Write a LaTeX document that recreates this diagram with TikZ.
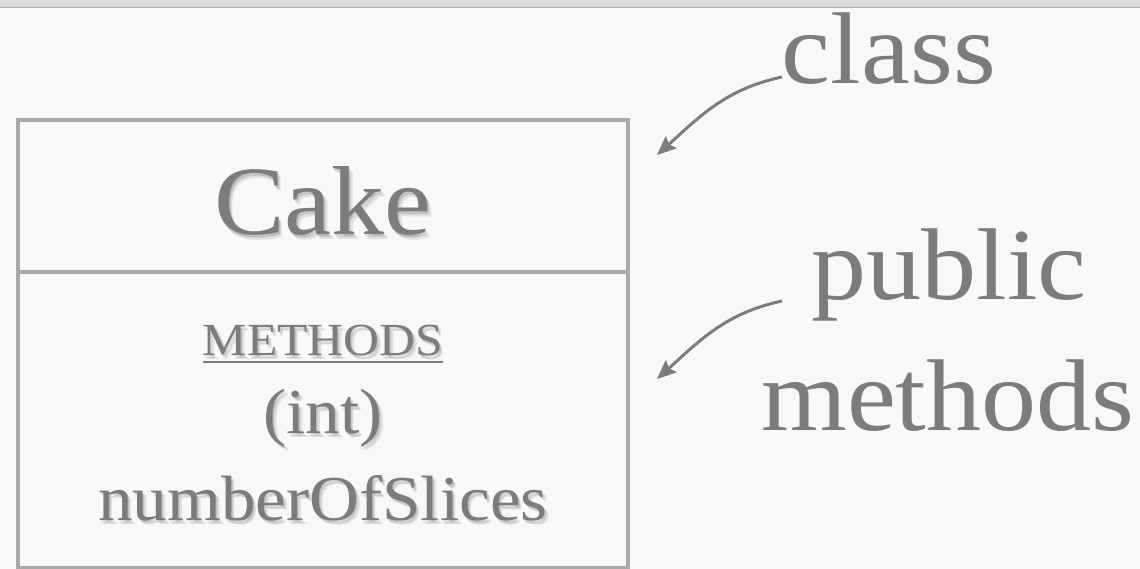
\documentclass[tikz,border=0pt]{standalone}
\usepackage{fontspec}
\setmainfont{Liberation Serif}[FakeStretch=1.08]
\usetikzlibrary{arrows.meta}
\definecolor{bg}{HTML}{F9F8F6}
\definecolor{txt}{HTML}{7C7C7C}
\definecolor{boxline}{HTML}{A9A9A9}
\definecolor{band}{HTML}{D6D6D4}
\tikzset{
  boxpart/.style={draw=boxline, line width=4pt, minimum width=610pt, inner sep=0pt},
  lbl/.style={text=txt, anchor=base, inner sep=0pt},
  shad/.style={text=black, text opacity=0.09, anchor=base, inner sep=0pt},
  arr/.style={draw=txt, line width=3pt, -{Stealth[length=19pt,width=16pt,inset=3pt]}},
  ul/.style={draw=txt, line width=2pt},
}
\newcommand{\shtext}[4]{%
  \node[shad] at (#1+3.5,#2+4.5) {#3};
  \node[shad] at (#1+2,#2+3) {#3};
  \node[shad] at (#1+1,#2+1.5) {#3};
  \node[lbl] (#4) at (#1,#2) {#3};}
\begin{document}
\begin{tikzpicture}[x=1pt,y=-1pt]
\useasboundingbox (0,0) rectangle (1140,569);
\fill[bg] (0,0) rectangle (1140,569);
\shade[top color=band!80, bottom color=band] (0,0) rectangle (1140,7);
\draw[band!80!black, line width=0.8pt] (0,7) -- (1140,7);
% class box
\node[boxpart, minimum height=152pt] (head) at (323,196) {};
\node[boxpart, minimum height=296pt] (body) at (323,420) {};
% texts in box
\shtext{323}{235}{\fontsize{98}{98}\selectfont Cake}{cake}
\shtext{323}{355}{\fontsize{46}{46}\selectfont METHODS}{meth}
\draw[ul] ([yshift=-7pt]meth.base west) -- ([yshift=-7pt]meth.base east);
\shtext{323}{433}{\fontsize{64}{64}\selectfont (int)}{int}
\shtext{323}{520}{\fontsize{64}{64}\selectfont numberOfSlices}{nos}
% side labels
\node[lbl] (cls) at (889,84) {\fontsize{102}{102}\selectfont class};
\node[lbl] (pub) at (949,299) {\fontsize{102}{102}\selectfont public};
\node[lbl] (mth) at (948,430) {\fontsize{102}{102}\selectfont methods};
% arrows
\coordinate (a1s) at (782,77);
\coordinate (a1e) at (657,155);
\coordinate (a2s) at (782,301);
\coordinate (a2e) at (657,379);
\draw[arr] (a1s) to[out=192,in=42] (a1e);
\draw[arr] (a2s) to[out=192,in=42] (a2e);
\end{tikzpicture}
\end{document}
